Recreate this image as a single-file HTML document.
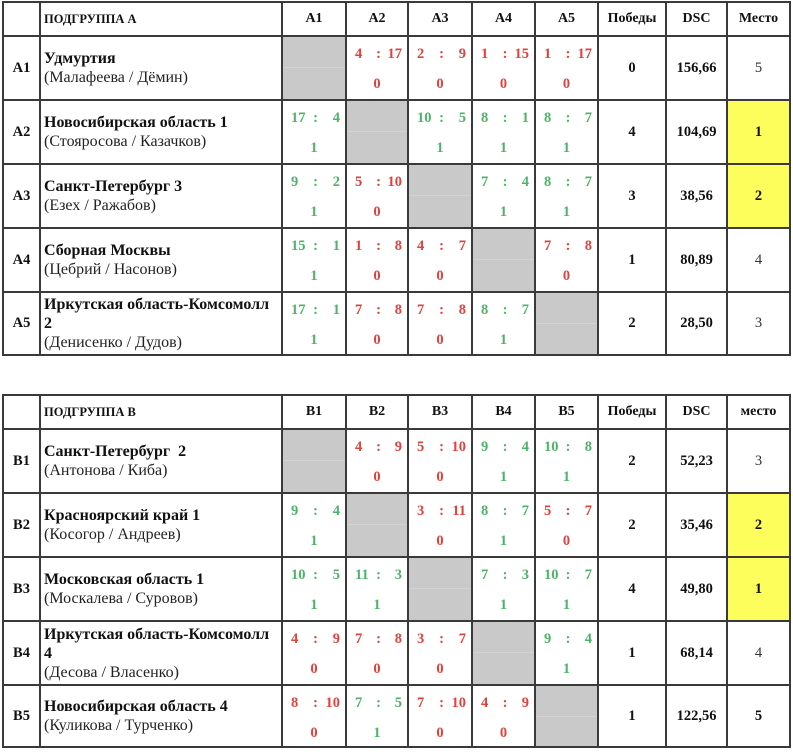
<!DOCTYPE html>
<html><head><meta charset="utf-8">
<style>
html,body{margin:0;padding:0;background:#fff;}
body{width:793px;height:756px;position:relative;overflow:hidden;font-family:"Liberation Serif","DejaVu Serif",serif;color:#111;}
.tb{position:absolute;left:2px;display:grid;grid-template-columns:35px 240px 62px 60px 62px 61px 61px 66px 59px 61px;gap:2px;padding:2px;background:#3a3a3a;}
#ta{top:1px;grid-template-rows:32px 62px 62px 62px 62px 61px;}
#tb{top:394px;grid-template-rows:32px 62px 62px 62px 62px 60px;}
.tb>div{background:#fff;display:flex;align-items:center;justify-content:center;font-weight:bold;font-size:14.5px;position:relative;}
.tb>div.h{font-size:14px;}
.tb>div.hl{justify-content:flex-start;padding-left:3px;font-size:12.5px;}
.tb>div.t{flex-direction:column;align-items:flex-start;justify-content:center;padding-left:3px;font-size:16px;line-height:19px;font-weight:normal;}
.t b{font-weight:bold;color:#111;}
.t span{color:#222;}
.tb>div.x{background:linear-gradient(#c9c9c9 0,#c9c9c9 30px,#d4d4d4 30px,#d4d4d4 31px,#c9c9c9 31px);}
.tb>div.y{background:#fdfd5c;}
.tb>div.n{font-weight:normal;color:#333;}
.s{position:absolute;top:9px;left:8px;right:5px;height:16px;line-height:16px;display:grid;grid-template-columns:1fr auto 1fr;font-size:14.5px;font-weight:bold;}
.s i{font-style:normal;}
.s i:first-child{justify-self:start;}
.s i:last-child{justify-self:end;}
.rs{position:absolute;top:39px;left:0;right:0;height:16px;line-height:16px;text-align:center;font-size:14.5px;font-weight:bold;}
.g{color:#4cb467;}
.r{color:#e3403c;}
</style></head><body>

<div class="tb" id="ta">
<div></div><div class="hl">ПОДГРУППА А</div><div class="h">А1</div><div class="h">А2</div><div class="h">А3</div><div class="h">А4</div><div class="h">А5</div><div class="h">Победы</div><div class="h">DSC</div><div class="h">Место</div>

<div>А1</div><div class="t"><b>Удмуртия</b><span>(Малафеева / Дёмин)</span></div>
<div class="x"></div>
<div class="r"><div class="s"><i>4</i><i>:</i><i>17</i></div><div class="rs">0</div></div>
<div class="r"><div class="s"><i>2</i><i>:</i><i>9</i></div><div class="rs">0</div></div>
<div class="r"><div class="s"><i>1</i><i>:</i><i>15</i></div><div class="rs">0</div></div>
<div class="r"><div class="s"><i>1</i><i>:</i><i>17</i></div><div class="rs">0</div></div>
<div>0</div><div>156,66</div><div class="n">5</div>

<div>А2</div><div class="t"><b>Новосибирская область 1</b><span>(Стояросова / Казачков)</span></div>
<div class="g"><div class="s"><i>17</i><i>:</i><i>4</i></div><div class="rs">1</div></div>
<div class="x"></div>
<div class="g"><div class="s"><i>10</i><i>:</i><i>5</i></div><div class="rs">1</div></div>
<div class="g"><div class="s"><i>8</i><i>:</i><i>1</i></div><div class="rs">1</div></div>
<div class="g"><div class="s"><i>8</i><i>:</i><i>7</i></div><div class="rs">1</div></div>
<div>4</div><div>104,69</div><div class="y">1</div>

<div>А3</div><div class="t"><b>Санкт-Петербург 3</b><span>(Езех / Ражабов)</span></div>
<div class="g"><div class="s"><i>9</i><i>:</i><i>2</i></div><div class="rs">1</div></div>
<div class="r"><div class="s"><i>5</i><i>:</i><i>10</i></div><div class="rs">0</div></div>
<div class="x"></div>
<div class="g"><div class="s"><i>7</i><i>:</i><i>4</i></div><div class="rs">1</div></div>
<div class="g"><div class="s"><i>8</i><i>:</i><i>7</i></div><div class="rs">1</div></div>
<div>3</div><div>38,56</div><div class="y">2</div>

<div>А4</div><div class="t"><b>Сборная Москвы</b><span>(Цебрий / Насонов)</span></div>
<div class="g"><div class="s"><i>15</i><i>:</i><i>1</i></div><div class="rs">1</div></div>
<div class="r"><div class="s"><i>1</i><i>:</i><i>8</i></div><div class="rs">0</div></div>
<div class="r"><div class="s"><i>4</i><i>:</i><i>7</i></div><div class="rs">0</div></div>
<div class="x"></div>
<div class="r"><div class="s"><i>7</i><i>:</i><i>8</i></div><div class="rs">0</div></div>
<div>1</div><div>80,89</div><div class="n">4</div>

<div>А5</div><div class="t"><b>Иркутская область-Комсомолл<br>2</b><span>(Денисенко / Дудов)</span></div>
<div class="g"><div class="s"><i>17</i><i>:</i><i>1</i></div><div class="rs">1</div></div>
<div class="r"><div class="s"><i>7</i><i>:</i><i>8</i></div><div class="rs">0</div></div>
<div class="r"><div class="s"><i>7</i><i>:</i><i>8</i></div><div class="rs">0</div></div>
<div class="g"><div class="s"><i>8</i><i>:</i><i>7</i></div><div class="rs">1</div></div>
<div class="x"></div>
<div>2</div><div>28,50</div><div class="n">3</div>
</div>

<div class="tb" id="tb">
<div></div><div class="hl">ПОДГРУППА В</div><div class="h">В1</div><div class="h">В2</div><div class="h">В3</div><div class="h">В4</div><div class="h">В5</div><div class="h">Победы</div><div class="h">DSC</div><div class="h">место</div>

<div>В1</div><div class="t"><b>Санкт-Петербург&nbsp; 2</b><span>(Антонова / Киба)</span></div>
<div class="x"></div>
<div class="r"><div class="s"><i>4</i><i>:</i><i>9</i></div><div class="rs">0</div></div>
<div class="r"><div class="s"><i>5</i><i>:</i><i>10</i></div><div class="rs">0</div></div>
<div class="g"><div class="s"><i>9</i><i>:</i><i>4</i></div><div class="rs">1</div></div>
<div class="g"><div class="s"><i>10</i><i>:</i><i>8</i></div><div class="rs">1</div></div>
<div>2</div><div>52,23</div><div class="n">3</div>

<div>В2</div><div class="t"><b>Красноярский край 1</b><span>(Косогор / Андреев)</span></div>
<div class="g"><div class="s"><i>9</i><i>:</i><i>4</i></div><div class="rs">1</div></div>
<div class="x"></div>
<div class="r"><div class="s"><i>3</i><i>:</i><i>11</i></div><div class="rs">0</div></div>
<div class="g"><div class="s"><i>8</i><i>:</i><i>7</i></div><div class="rs">1</div></div>
<div class="r"><div class="s"><i>5</i><i>:</i><i>7</i></div><div class="rs">0</div></div>
<div>2</div><div>35,46</div><div class="y">2</div>

<div>В3</div><div class="t"><b>Московская область 1</b><span>(Москалева / Суровов)</span></div>
<div class="g"><div class="s"><i>10</i><i>:</i><i>5</i></div><div class="rs">1</div></div>
<div class="g"><div class="s"><i>11</i><i>:</i><i>3</i></div><div class="rs">1</div></div>
<div class="x"></div>
<div class="g"><div class="s"><i>7</i><i>:</i><i>3</i></div><div class="rs">1</div></div>
<div class="g"><div class="s"><i>10</i><i>:</i><i>7</i></div><div class="rs">1</div></div>
<div>4</div><div>49,80</div><div class="y">1</div>

<div>В4</div><div class="t"><b>Иркутская область-Комсомолл<br>4</b><span>(Десова / Власенко)</span></div>
<div class="r"><div class="s"><i>4</i><i>:</i><i>9</i></div><div class="rs">0</div></div>
<div class="r"><div class="s"><i>7</i><i>:</i><i>8</i></div><div class="rs">0</div></div>
<div class="r"><div class="s"><i>3</i><i>:</i><i>7</i></div><div class="rs">0</div></div>
<div class="x"></div>
<div class="g"><div class="s"><i>9</i><i>:</i><i>4</i></div><div class="rs">1</div></div>
<div>1</div><div>68,14</div><div class="n">4</div>

<div>В5</div><div class="t"><b>Новосибирская область 4</b><span>(Куликова / Турченко)</span></div>
<div class="r"><div class="s"><i>8</i><i>:</i><i>10</i></div><div class="rs">0</div></div>
<div class="g"><div class="s"><i>7</i><i>:</i><i>5</i></div><div class="rs">1</div></div>
<div class="r"><div class="s"><i>7</i><i>:</i><i>10</i></div><div class="rs">0</div></div>
<div class="r"><div class="s"><i>4</i><i>:</i><i>9</i></div><div class="rs">0</div></div>
<div class="x"></div>
<div>1</div><div>122,56</div><div>5</div>
</div>

</body></html>
